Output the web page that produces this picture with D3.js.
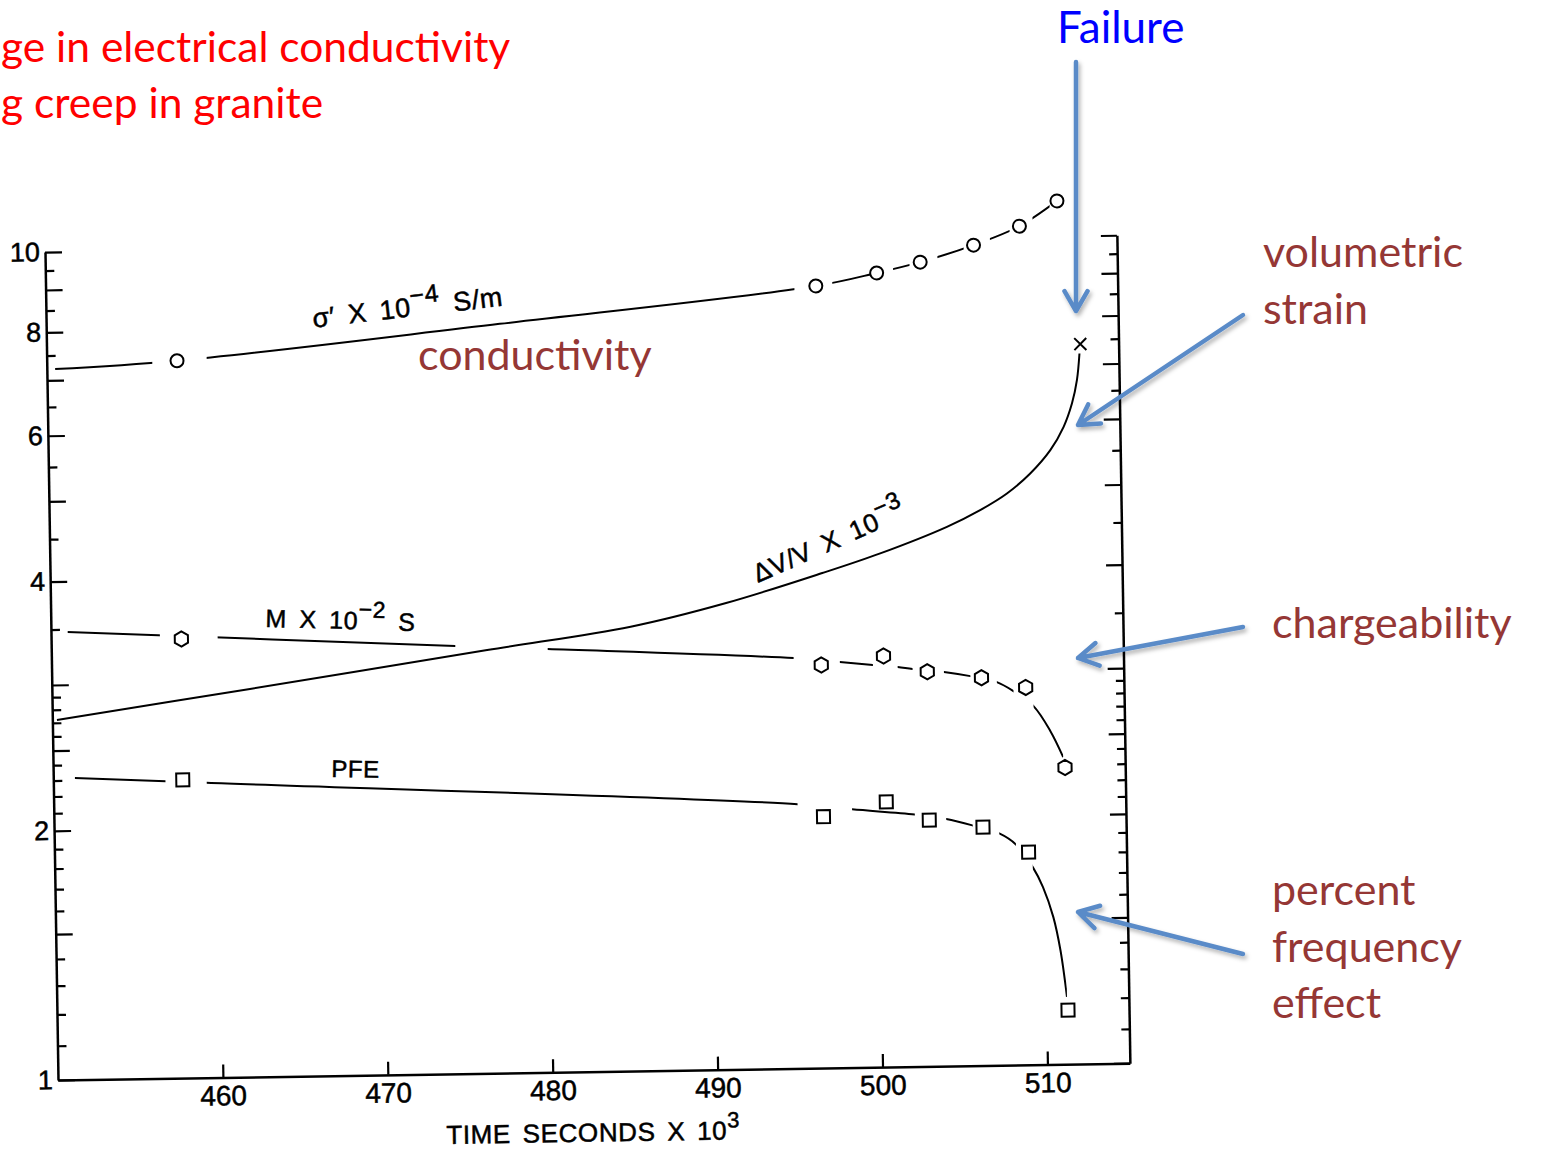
<!DOCTYPE html>
<html lang="en">
<head>
    <meta charset="UTF-8">
    <title>Electrical conductivity during creep in granite</title>
    <script src="https://cdn.jsdelivr.net/npm/d3@7"></script>
    <style>
        body {
            margin: 0;
            background: #fff;
        }

        svg {
            width: 1541px;
            height: 1151px;
            display: block;
        }

        .scan {
            font-family: "Liberation Sans", Arial, sans-serif;
            fill: #000;
            stroke: #000;
            stroke-width: 0.5;
        }

        .tick text {
            stroke: #000;
            stroke-width: 0.5;
        }

        .note {
            font-family: Lato, "Open Sans", sans-serif;
        }

        .curve {
            fill: none;
            stroke: #000;
            stroke-width: 2;
        }

        .mark {
            fill: #fff;
            stroke: #000;
            stroke-width: 2;
        }

        .arrow {
            fill: none;
            stroke: #5a8bc8;
            stroke-width: 4.5;
            stroke-linecap: round;
            stroke-linejoin: round;
        }
    </style>
</head>
<body>
<svg width="1541" height="1151"></svg>

<script>
    // time is in seconds x 10^3, all series are read on the log axis 1..10

    // conductivity sigma' x 10^-4 S/m (circles)
    var condTime = [457.9, 496.7, 500.4, 503.05, 506.3, 509.1, 511.4];
    var condVal = [7.35, 8.80, 9.10, 9.36, 9.79, 10.30, 11.03];
    var condLineTime = [450.5, 457.9, 477.5, 496.7, 500.4, 503.05, 506.3, 509.1, 511.4];
    var condLineVal = [7.22, 7.35, 8.03, 8.80, 9.10, 9.36, 9.79, 10.30, 11.03];
    var condGaps = [[456.4, 459.7], [495.4, 497.7], [500.1, 501.4], [502.4, 504.1], [505.7, 507.3], [508.5, 509.9], [510.95, 512]];

    // chargeability M x 10^-2 s (hexagons)
    var mTime = [457.9, 496.67, 500.45, 503.09, 506.37, 509.04, 511.35];
    var mVal = [3.39, 3.066, 3.135, 2.995, 2.939, 2.856, 2.282];
    var mLineTime = [451.0, 474.5, 480.1, 495.0, 497.8, 499.8, 501.3, 502.2, 504.1, 505.7, 507.3, 508.3, 509.5, 510.5, 511.25];
    var mLineVal = [3.474, 3.285, 3.244, 3.130, 3.090, 3.059, 3.039, 3.020, 2.991, 2.954, 2.902, 2.828, 2.710, 2.526, 2.349];
    var mGaps = [[456.6, 460.1], [474.5, 480.1], [495.0, 497.8], [499.8, 501.3], [502.2, 504.1], [505.7, 507.3], [508.3, 509.5]];

    // percent frequency effect (squares)
    var pTime = [457.85, 496.66, 500.48, 503.07, 506.32, 509.06, 511.30];
    var pVal = [2.291, 2.011, 2.090, 1.983, 1.940, 1.806, 1.162];
    var pLineTime = [451.3, 459.3, 495.1, 498.4, 502.2, 504.1, 505.7, 507.3, 508.3, 509.3, 509.9, 510.5, 510.9, 511.25];
    var pLineVal = [2.314, 2.270, 2.085, 2.050, 2.016, 1.988, 1.950, 1.905, 1.846, 1.732, 1.638, 1.506, 1.373, 1.206];
    var pGaps = [[456.8, 459.3], [495.1, 498.4], [502.2, 504.1], [505.7, 507.3], [508.3, 509.3]];

    // volumetric strain dV/V x 10^-3, ends at failure (x)
    var dvTime = [450.28, 462.01, 476.43, 485.15, 490.96, 496.82, 500.35, 504.42, 506.45, 508.09, 509.52, 510.76, 511.59, 512.12, 512.44, 512.62];
    var dvVal = [2.721, 2.942, 3.244, 3.440, 3.659, 3.960, 4.172, 4.479, 4.685, 4.901, 5.176, 5.518, 5.884, 6.279, 6.696, 7.211];
    var failTime = 512.68;
    var failVal = 7.402;

    // axes
    var xTicks = [460, 470, 480, 490, 500, 510];
    var yTicks = [1, 1.1, 1.2, 1.3, 1.4, 1.5, 1.6, 1.7, 1.8, 1.9, 2, 2.1, 2.2, 2.3, 2.4, 2.5, 2.6, 2.7, 2.8, 2.9,
        3, 3.5, 4, 4.5, 5, 5.5, 6, 6.5, 7, 7.5, 8, 8.5, 9, 9.5, 10];
    var yLong = [1, 1.5, 2, 2.5, 3, 4, 5, 6, 7, 8, 9, 10];
    var yLabels = [1, 2, 4, 6, 8, 10];

    var svg = d3.select('svg');
    var scanFont = '"Liberation Sans", Arial, sans-serif';

    var x = d3.scaleLinear().domain([450, 515]).range([58, 1130]);
    var y = d3.scaleLog().domain([1, 10]).range([1080, 252]);

    // the scanned figure is slightly tilted
    var plot = svg.append('g')
        .attr('transform', 'rotate(-0.9, 58, 1080)');

    function styleAxis(g, size) {
        g.attr('font-size', size)
            .attr('font-family', scanFont)
            .attr('color', '#000');
        g.select('.domain').attr('stroke-width', 2.5);
        g.selectAll('.tick line').attr('stroke-width', 2.2);
    }

    var leftAxis = plot.append('g')
        .attr('transform', 'translate(' + x(450) + ',0)')
        .call(d3.axisLeft(y)
            .tickValues(yTicks)
            .tickSizeInner(-9)
            .tickSizeOuter(0)
            .tickPadding(5)
            .tickFormat(function (d) {
                return yLabels.indexOf(d) >= 0 ? d : '';
            }));
    styleAxis(leftAxis, 27);
    leftAxis.selectAll('.tick line')
        .attr('x2', function (d) {
            return yLong.indexOf(d) >= 0 ? 17 : 9;
        });

    var rightAxis = plot.append('g')
        .attr('transform', 'translate(' + x(515) + ',0)')
        .call(d3.axisRight(y)
            .tickValues(yTicks)
            .tickSizeInner(-9)
            .tickSizeOuter(0)
            .tickFormat(''));
    styleAxis(rightAxis, 26);
    rightAxis.selectAll('.tick line')
        .attr('x2', function (d) {
            return yLong.indexOf(d) >= 0 ? -16 : -8;
        });

    var bottomAxis = plot.append('g')
        .attr('transform', 'translate(0,' + y(1) + ')')
        .call(d3.axisBottom(x)
            .tickValues(xTicks)
            .tickSizeInner(-13)
            .tickSizeOuter(0)
            .tickPadding(8));
    styleAxis(bottomAxis, 28);

    var xTitle = plot.append('text')
        .attr('class', 'scan')
        .attr('x', x(482.4))
        .attr('y', y(1) + 70)
        .attr('text-anchor', 'middle')
        .attr('font-size', 26)
        .attr('letter-spacing', 0.6)
        .attr('word-spacing', 4);
    xTitle.append('tspan').text('TIME SECONDS X 10');
    xTitle.append('tspan').attr('dy', -12).attr('font-size', 22).text('3');

    // series
    var lineGen = d3.line()
        .x(function (d) {
            return x(d[0]);
        })
        .y(function (d) {
            return y(d[1]);
        })
        .curve(d3.curveCatmullRom.alpha(0.5));

    function hexagon(r) {
        var p = d3.path();
        for (var i = 0; i < 6; i++) {
            var a = (-90 + 60 * i) * Math.PI / 180;
            if (i === 0) p.moveTo(r * Math.cos(a), r * Math.sin(a));
            else p.lineTo(r * Math.cos(a), r * Math.sin(a));
        }
        p.closePath();
        return p.toString();
    }

    var shapes = {
        circle: d3.symbol().type(d3.symbolCircle).size(Math.PI * 6.5 * 6.5)(),
        square: d3.symbol().type(d3.symbolSquare).size(13 * 13)(),
        hexagon: hexagon(7.6)
    };

    function drawCurve(times, vals, gaps, id) {
        var pts = d3.zip(times, vals);
        var lo = times[0];
        var hi = times[times.length - 1];
        var runs = [];
        var a = lo;
        gaps.forEach(function (g) {
            runs.push([a, g[0]]);
            a = g[1];
        });
        runs.push([a, hi]);

        var clip = plot.append('clipPath').attr('id', id);
        clip.selectAll('rect')
            .data(runs)
            .enter()
            .append('rect')
            .attr('x', function (d) {
                return x(d[0]);
            })
            .attr('width', function (d) {
                return Math.max(0, x(d[1]) - x(d[0]));
            })
            .attr('y', -200)
            .attr('height', 1500);

        plot.append('path')
            .attr('class', 'curve')
            .attr('clip-path', gaps.length ? 'url(#' + id + ')' : null)
            .attr('d', lineGen(pts));
    }

    function drawMarks(times, vals, shape) {
        plot.selectAll('.m-' + shape)
            .data(d3.zip(times, vals))
            .enter()
            .append('path')
            .attr('class', 'mark m-' + shape)
            .attr('transform', function (d) {
                return 'translate(' + x(d[0]) + ',' + y(d[1]) + ')';
            })
            .attr('d', shapes[shape]);
    }

    drawCurve(dvTime, dvVal, [], 'clip-dv');
    drawCurve(mLineTime, mLineVal, mGaps, 'clip-m');
    drawCurve(pLineTime, pLineVal, pGaps, 'clip-p');
    drawCurve(condLineTime, condLineVal, condGaps, 'clip-c');

    drawMarks(condTime, condVal, 'circle');
    drawMarks(mTime, mVal, 'hexagon');
    drawMarks(pTime, pVal, 'square');

    plot.append('path')
        .attr('class', 'curve')
        .attr('transform', 'translate(' + x(failTime) + ',' + y(failVal) + ')')
        .attr('d', 'M-6,-6L6,6M-6,6L6,-6');

    // curve labels, placed in data units
    var curveLabels = [
        {t: 466.2, v: 8.01, angle: -5.7, size: 27, text: 'σ′ X 10', sup: '−4', tail: ' S/m'},
        {t: 492.9, v: 3.862, angle: -23, size: 26, text: 'ΔV/V X 10', sup: '−3', tail: ''},
        {t: 463.0, v: 3.493, angle: 2.4, size: 25, text: 'M X 10', sup: '−2', tail: ' S'},
        {t: 466.85, v: 2.295, angle: 1.9, size: 24, text: 'PFE', sup: '', tail: ''}
    ];

    curveLabels.forEach(function (d) {
        var t = plot.append('text')
            .attr('class', 'scan')
            .attr('font-size', d.size)
            .attr('letter-spacing', 0.6)
            .attr('word-spacing', 5)
            .attr('transform', 'translate(' + x(d.t) + ',' + y(d.v) + ') rotate(' + d.angle + ')');
        t.append('tspan').text(d.text);
        if (d.sup) {
            t.append('tspan').attr('dy', -12).attr('font-size', d.size - 2).text(d.sup);
            t.append('tspan').attr('dy', 12).text(d.tail);
        }
    });

    // slide annotations on top of the scan
    var defs = svg.append('defs');
    var shadow = defs.append('filter')
        .attr('id', 'shadow')
        .attr('filterUnits', 'userSpaceOnUse')
        .attr('x', 0).attr('y', 0).attr('width', 1541).attr('height', 1151);
    shadow.append('feDropShadow')
        .attr('dx', 2).attr('dy', 3).attr('stdDeviation', 2)
        .attr('flood-color', '#000').attr('flood-opacity', 0.3);

    var arrows = [
        [1076, 62, 1076, 311],
        [1243, 315, 1078, 425],
        [1243, 627, 1078, 658],
        [1243, 954, 1078, 912]
    ];

    arrows.forEach(function (a) {
        var dx = a[2] - a[0], dy = a[3] - a[1];
        var len = Math.sqrt(dx * dx + dy * dy);
        var ux = dx / len, uy = dy / len;
        var arm = 23, ang = 30 * Math.PI / 180;
        function armPoint(s) {
            var c = Math.cos(s * ang), sn = Math.sin(s * ang);
            var rx = ux * c - uy * sn, ry = ux * sn + uy * c;
            return [a[2] - arm * rx, a[3] - arm * ry];
        }
        var p1 = armPoint(1), p2 = armPoint(-1);
        svg.append('path')
            .attr('class', 'arrow')
            .attr('filter', 'url(#shadow)')
            .attr('d', 'M' + a[0] + ',' + a[1] + 'L' + a[2] + ',' + a[3] +
                'M' + p1[0] + ',' + p1[1] + 'L' + a[2] + ',' + a[3] + 'L' + p2[0] + ',' + p2[1]);
    });

    var notes = [
        {x: 1, y: 62, size: 42.5, color: '#ff0000', text: 'ge in electrical conductivity'},
        {x: 1, y: 118, size: 42.5, color: '#ff0000', text: 'g creep in granite'},
        {x: 1057, y: 43, size: 44, color: '#0000ff', text: 'Failure'},
        {x: 1263, y: 267, size: 43, color: '#953735', text: 'volumetric'},
        {x: 1263, y: 324, size: 43, color: '#953735', text: 'strain'},
        {x: 418, y: 370, size: 43, color: '#953735', text: 'conductivity'},
        {x: 1272, y: 638, size: 43, color: '#953735', text: 'chargeability'},
        {x: 1272, y: 905, size: 43, color: '#953735', text: 'percent'},
        {x: 1272, y: 962, size: 43, color: '#953735', text: 'frequency'},
        {x: 1272, y: 1018, size: 43, color: '#953735', text: 'effect'}
    ];

    svg.selectAll('.note')
        .data(notes)
        .enter()
        .append('text')
        .attr('class', 'note')
        .attr('x', function (d) {
            return d.x;
        })
        .attr('y', function (d) {
            return d.y;
        })
        .attr('fill', function (d) {
            return d.color;
        })
        .attr('font-size', function (d) {
            return d.size;
        })
        .text(function (d) {
            return d.text;
        });
</script>

</body>
</html>
